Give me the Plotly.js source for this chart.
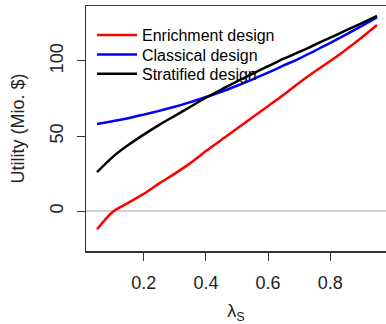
<!DOCTYPE html>
<html>
<head>
<meta charset="utf-8">
<script src="https://cdn.plot.ly/plotly-3.0.1.min.js"></script>
<style>html,body{margin:0;padding:0;background:#fff;}#chart{width:386px;height:324px;}</style>
</head>
<body>
<div id="chart"></div>
<script>
var lambdaS = [0.05,0.10,0.15,0.20,0.25,0.30,0.35,0.40,0.45,0.50,0.55,0.60,0.65,0.70,0.75,0.80,0.85,0.90,0.95];
var enrichment = [-12,-0.5,5.5,11.5,18.5,25,32,40,47.5,55,62.5,70,77.5,85.5,93,100,107.5,115.5,124];
var classical = [58,59.9,61.9,64.3,66.8,69.5,72.6,76,79.5,83.5,87.8,92.3,97,101.6,106.8,112,117.5,123.2,129];
var stratified = [26,36,44,51,57.5,63.5,69.5,75.5,81,86.5,91.5,96.5,101.5,106,110.8,115.5,120.3,125.1,130];
var seriesNames = ["Enrichment design","Classical design","Stratified design"];
var xTicks = [0.2,0.4,0.6,0.8];
var xTickLabels = ["0.2","0.4","0.6","0.8"];
var yTicks = [0,50,100];
var yTickLabels = ["0","50","100"];

var fontFam = "Liberation Sans, Arial, sans-serif";
var colors = ["#ff0000","#0000ff","#000000"];
var legendIds = ["legend","legend2","legend3"];
var legendY = [0.951, 0.871, 0.792];
var ys = [enrichment, classical, stratified];
var data = ys.map(function(y,i){
  return {x: lambdaS, y: y, type:"scatter", mode:"lines", name: seriesNames[i], legend: legendIds[i],
          line:{color:colors[i], width:2.5, shape:"spline", smoothing:0.8}};
});
var layout = {
  width:386, height:324,
  margin:{l:86, r:0, t:6, b:73},
  paper_bgcolor:"#fff", plot_bgcolor:"#fff",
  font:{family:fontFam, size:16, color:"#000"},
  showlegend:true,
  xaxis:{range:[0.0145,0.979], tickvals:xTicks, ticktext:xTickLabels,
         ticks:"outside", ticklen:8, tickwidth:1, tickcolor:"#333",
         showline:true, linecolor:"#333", linewidth:1.5, mirror:true,
         showgrid:false, zeroline:false, ticklabelstandoff:7,
         tickfont:{family:fontFam, size:18, color:"#222"},
         title:{text:"λ<sub>S</sub>", font:{family:fontFam, size:18, color:"#222"}, standoff:27}},
  yaxis:{range:[-26.5,136.6], tickvals:yTicks, ticktext:yTickLabels, tickangle:-90,
         ticks:"outside", ticklen:8, tickwidth:1, tickcolor:"#333",
         showline:true, linecolor:"#333", linewidth:1.5, ticklabelstandoff:6,
         showgrid:false, zeroline:true, zerolinecolor:"#d0d0d0", zerolinewidth:1.5,
         tickfont:{family:fontFam, size:18, color:"#222"},
         title:{text:"Utility (Mio. $)", font:{family:fontFam, size:18, color:"#222"}, standoff:18}}
};
legendIds.forEach(function(id,i){
  layout[id] = {x:0.02, y:legendY[i], xanchor:"left", yanchor:"top", bgcolor:"rgba(0,0,0,0)",
                borderwidth:0, itemwidth:40, font:{family:fontFam, size:16, color:"#000"}};
});
Plotly.newPlot("chart", data, layout, {staticPlot:true, displayModeBar:false});
</script>
</body>
</html>
